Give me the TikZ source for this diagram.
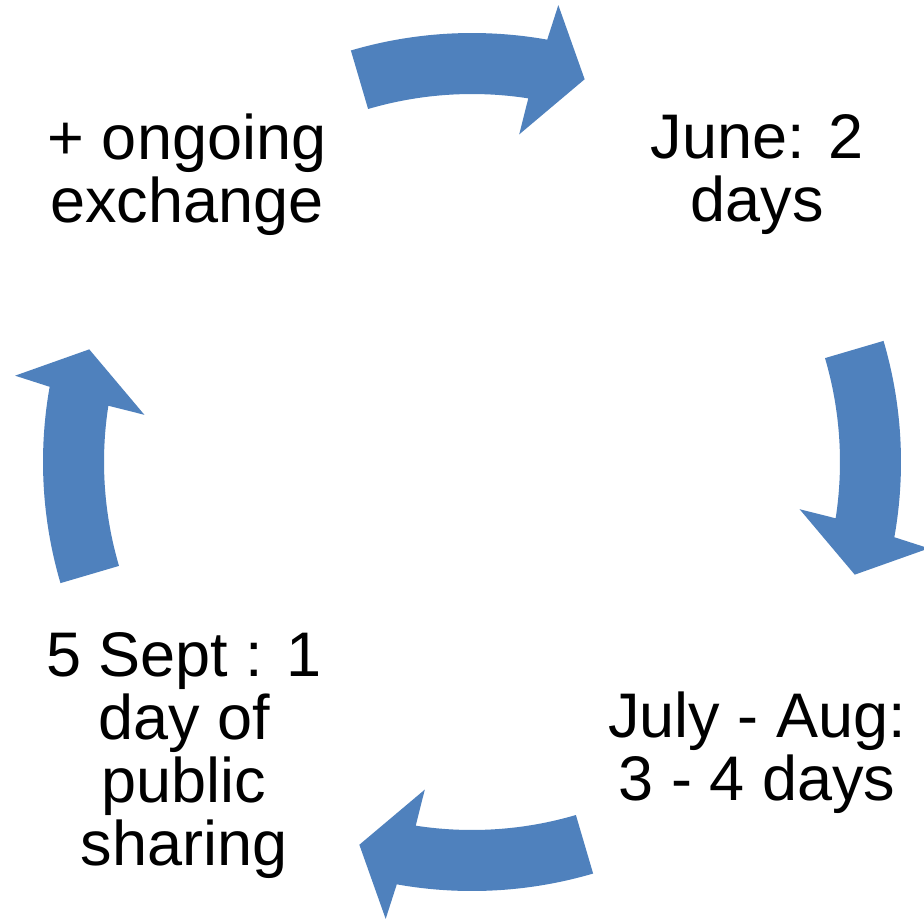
\documentclass[tikz,border=0pt]{standalone}
\usepackage{fontspec}
\setmainfont{Liberation Sans}
\usepackage{xcolor}
\usepackage{tikz}
\definecolor{bg}{HTML}{FFFFFF}
\definecolor{text}{HTML}{000000}
\definecolor{cycblue}{HTML}{4F81BD}
\tikzset{
  cycArrow/.style={fill=cycblue, draw=none},
  stageLbl/.style={text=text, align=center, anchor=base, inner sep=0pt,
    font=\fontsize{63}{63}\selectfont},
}
\newcommand{\CycleCenter}{%
  \coordinate (Ctr) at (472,-462);
}
% one curved block arrow, centred on angle #1, running clockwise
\newcommand{\CycleArrow}[1]{%
  \fill[cycArrow] ($(Ctr)+(#1+16.4:429)$)
    arc[start angle=#1+16.4, end angle=#1-10.1, radius=429]
    -- ($(Ctr)+(#1-10.7:465)$) -- ($(Ctr)+(#1-16.4:399)$)
    -- ($(Ctr)+(#1-8.2:331)$) -- ($(Ctr)+(#1-8.8:368)$)
    arc[start angle=#1-8.8, end angle=#1+16.4, radius=368] -- cycle;
}
\usetikzlibrary{calc}

\begin{document}
\begin{tikzpicture}[x=1pt, y=1pt]
  \useasboundingbox[fill=bg] (0,0) rectangle (924,-919);
  \CycleCenter

  % Arrows
  \CycleArrow{90}
  \CycleArrow{0}
  \CycleArrow{-90}
  \CycleArrow{180}

  % Stage labels (base = last line)
  \node[stageLbl] (exchange) at (187,-222) {+ ongoing\\exchange};
  \node[stageLbl] (june)     at (757,-221) {June: 2\\days};
  \node[stageLbl] (julyaug)  at (757,-800) {July - Aug:\\3 - 4 days};
  \node[stageLbl] (sept)     at (184,-865) {5 Sept : 1\\day of\\public\\sharing};
\end{tikzpicture}
\end{document}
